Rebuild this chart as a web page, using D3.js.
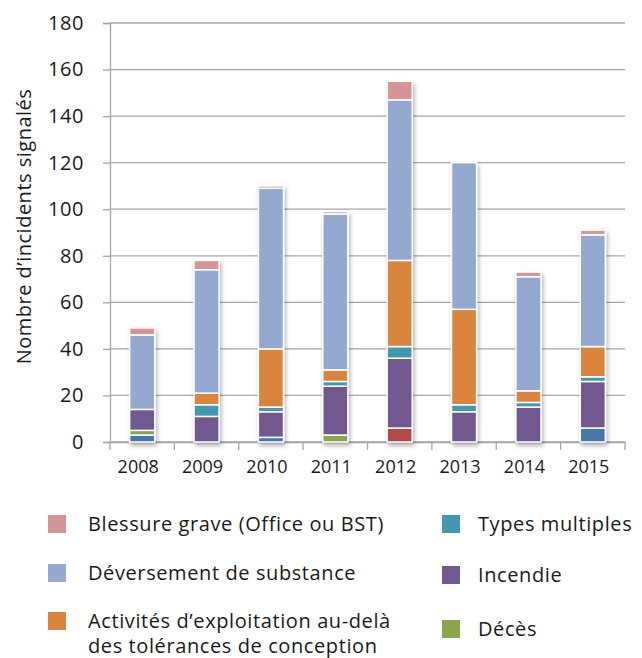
<!DOCTYPE html>
<html>
<head>
<meta charset="utf-8">
<script src="https://cdn.jsdelivr.net/npm/d3@7"></script>
<style>
  body { margin: 0; background: #fff; }
  text { font-family: "Open Sans", Lato, sans-serif; fill: #1a1a1a; }
</style>
</head>
<body>
<div id="chart"></div>
<script>
const years = ["2008", "2009", "2010", "2011", "2012", "2013", "2014", "2015"];

// series, bottom to top of each stack
const rupture     = [3, 0, 2, 0, 0, 0, 0, 6];
const explosion   = [0, 0, 0, 0, 6, 0, 0, 0];
const deces       = [2, 0, 0, 3, 0, 0, 0, 0];
const incendie    = [9, 11, 11, 21, 30, 13, 15, 20];
const multiples   = [0, 5, 2, 2, 5, 3, 2, 2];
const activites   = [0, 5, 25, 5, 37, 41, 5, 13];
const deversement = [32, 53, 69, 67, 69, 63, 49, 48];
const blessure    = [3, 4, 1, 1, 8, 0, 2, 2];

const yTicks = [0, 20, 40, 60, 80, 100, 120, 140, 160, 180];

const keys = ["rupture", "explosion", "deces", "incendie", "multiples", "activites", "deversement", "blessure"];
const colors = {
  rupture: "#4a76ab", explosion: "#b5484a", deces: "#8ba54c", incendie: "#71588f",
  multiples: "#4398ae", activites: "#da843c", deversement: "#93a9d0", blessure: "#d39596"
};

// legend as it appears (two columns)
const legendLeft = [
  {key: "blessure", lines: ["Blessure grave (Office ou BST)"]},
  {key: "deversement", lines: ["Déversement de substance"]},
  {key: "activites", lines: ["Activités d\u2019exploitation au-delà", "des tolérances de conception"]}
];
const legendRight = [
  {key: "multiples", lines: ["Types multiples"]},
  {key: "incendie", lines: ["Incendie"]},
  {key: "deces", lines: ["Décès"]}
];

const table = years.map((yr, i) => ({
  year: yr, rupture: rupture[i], explosion: explosion[i], deces: deces[i],
  incendie: incendie[i], multiples: multiples[i], activites: activites[i],
  deversement: deversement[i], blessure: blessure[i]
}));

const W = 642, H = 658;
const plotL = 110, plotR = 625, plotT = 23, plotB = 442;

const svg = d3.select("#chart").append("svg").attr("width", W).attr("height", H);

const defs = svg.append("defs");
defs.append("filter").attr("id", "shadow")
  .attr("x", "-30%").attr("y", "-10%").attr("width", "170%").attr("height", "130%")
  .append("feDropShadow")
  .attr("dx", 1.5).attr("dy", 3).attr("stdDeviation", 2)
  .attr("flood-color", "#000").attr("flood-opacity", 0.3);

const x = d3.scaleBand().domain(years).range([plotL, plotR]).paddingInner(0.61).paddingOuter(0.305);
const y = d3.scaleLinear().domain([0, 180]).range([plotB, plotT]);

// gridlines
svg.append("g").selectAll("line").data(yTicks).join("line")
  .attr("x1", plotL).attr("x2", plotR)
  .attr("y1", d => y(d)).attr("y2", d => y(d))
  .attr("stroke", "#a6a6a6").attr("stroke-width", 1.3);

// y axis
const yAxis = svg.append("g").attr("transform", `translate(${plotL},0)`)
  .call(d3.axisLeft(y).tickValues(yTicks).tickSize(7).tickPadding(19));
yAxis.select(".domain").attr("stroke", "#a6a6a6").attr("stroke-width", 1.3);
yAxis.selectAll(".tick line").attr("stroke", "#a6a6a6").attr("stroke-width", 1.3);
yAxis.selectAll("text").style("font-size", "20px").style("letter-spacing", "0.6px").attr("fill", "#1a1a1a");

// x axis
const xAxis = svg.append("g").attr("transform", `translate(0,${plotB})`)
  .call(d3.axisBottom(x).tickSize(0).tickPadding(18));
xAxis.select(".domain").attr("stroke", "#a6a6a6").attr("stroke-width", 1.3);
xAxis.selectAll("text").style("font-size", "18px").attr("fill", "#1a1a1a").attr("dx", -4);
const step = x.step();
xAxis.append("g").selectAll("line").data(d3.range(years.length + 1)).join("line")
  .attr("x1", i => plotL + i * step).attr("x2", i => plotL + i * step)
  .attr("y1", 0).attr("y2", 8)
  .attr("stroke", "#a6a6a6").attr("stroke-width", 1.3);

// y title
svg.append("text")
  .attr("transform", `translate(31,${(plotT + plotB) / 2 - 6}) rotate(-90)`)
  .attr("text-anchor", "middle")
  .style("font-size", "20px").style("letter-spacing", "0.5px")
  .text("Nombre d\u2019incidents signalés");

// stacked bars
const series = d3.stack().keys(keys)(table);
const bars = svg.append("g").attr("filter", "url(#shadow)");
bars.selectAll("g").data(series).join("g")
  .attr("fill", d => colors[d.key])
  .selectAll("rect").data(d => d.filter(s => s[1] - s[0] > 0)).join("rect")
  .attr("x", d => x(d.data.year))
  .attr("width", x.bandwidth())
  .attr("y", d => y(d[1]))
  .attr("height", d => y(d[0]) - y(d[1]))
  .attr("stroke", "#fff").attr("stroke-width", 1.5);

// legend
function drawLegend(items, sx, tx, rowY) {
  const g = svg.append("g");
  items.forEach((it, i) => {
    const cy = rowY[i];
    g.append("rect").attr("x", sx).attr("y", cy - 9).attr("width", 18).attr("height", 18)
      .attr("fill", colors[it.key]);
    const t = g.append("text").attr("x", tx).attr("y", cy).attr("dy", "0.35em")
      .style("font-size", "20px").style("letter-spacing", "0.6px");
    it.lines.forEach((ln, j) => {
      t.append("tspan").attr("x", tx).attr("dy", j === 0 ? "0.35em" : 25).text(ln);
    });
  });
}
drawLegend(legendLeft, 48, 88, [524, 573, 621]);
drawLegend(legendRight, 442, 478, [524, 575, 629]);
</script>
</body>
</html>
